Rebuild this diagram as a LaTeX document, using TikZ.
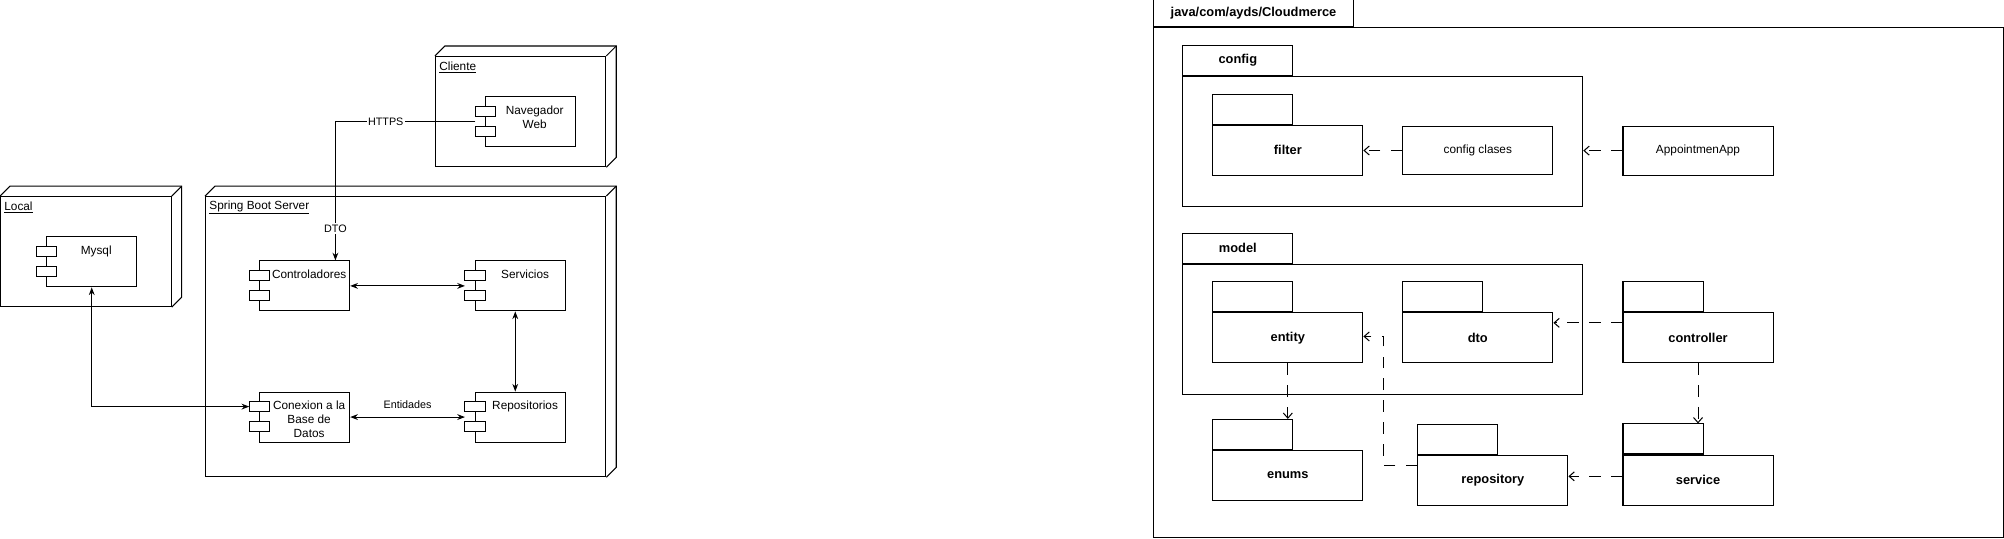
\documentclass[tikz,border=0pt]{standalone}
\usepackage{fontspec}
\setmainfont{Liberation Sans}
\usetikzlibrary{calc, positioning, arrows.meta}

\begin{document}
\begin{tikzpicture}[x = 1pt, y = -1pt, line width = 0.8pt,
		font = \fontsize{9.2}{11}\selectfont,
		>={Stealth[length=6pt, width=4.5pt]},
		device/.style = {draw, inner sep = 0pt, anchor = north west},
		comp/.style = {draw, inner sep = 0pt, minimum width = 70.1pt, minimum height = 38.9pt, anchor = north west},
		port/.style = {draw, fill = white},
		txt/.style = {inner sep = 0pt, anchor = north, align = center},
		tag/.style = {fill = white, inner sep = 1pt, font = \fontsize{8.4}{10}\selectfont},
		pkg/.style = {draw, inner sep = 0pt, minimum width = 116.8pt, minimum height = 39pt, anchor = north west},
		tab/.style = {draw, inner sep = 0pt, minimum width = 62.3pt, minimum height = 23.4pt, anchor = south west},
		dep/.style = {draw, dash pattern = on 9pt off 8pt, -{Straight Barb[length=4pt, width=7pt]}}]

	\useasboundingbox (0,0) rectangle (1560,418.8);

	% deployment nodes
	\node[device, minimum width = 132.9pt, minimum height = 85.7pt] (local) at (0,152.6) {};
	\node[device, minimum width = 311.6pt, minimum height = 218.1pt] (server) at (159.6,152.6) {};
	\node[device, minimum width = 132.6pt, minimum height = 85.9pt] (client) at (338.6,43.5) {};

	\foreach \n in {local, server, client}
	{
		\draw (\n.north west) -- ++(7.7,-7.7) -| ($(\n.south east)+(7.7,-7.7)$) -- (\n.south east);
		\draw (\n.north east) -- ++(7.7,-7.7);
	}

	\node[anchor = west, inner sep = 0pt] (localname) at ($(local.north west)+(3,9)$) {\underline{Local}};
	\node[anchor = west, inner sep = 0pt] (servername) at ($(server.north west)+(3,9)$) {\underline{Spring Boot Server}};
	\node[anchor = west, inner sep = 0pt] (clientname) at ($(client.north west)+(3,9)$) {\underline{Cliente}};

	% components
	\node[comp] (mysql) at (35.95,184) {};
	\node[comp] (nav) at (377.6,74.9) {};
	\node[comp] (ctrl) at (201.7,202.7) {};
	\node[comp] (serv) at (369.6,202.7) {};
	\node[comp] (conn) at (201.7,304.8) {};
	\node[comp] (repo) at (369.6,304.8) {};

	\foreach \n in {mysql, nav, ctrl, serv, conn, repo}
	{
		\draw[port] ($(\n.north west)+(-7.65,7.8)$) rectangle ++(15.7,7.8);
		\draw[port] ($(\n.north west)+(-7.65,23.4)$) rectangle ++(15.7,7.8);
	}

	\node[txt] (mysqltxt) at ($(mysql.north)+(3.5,7)$) {Mysql};
	\node[txt] (navtxt) at ($(nav.north)+(3.2,7)$) {Navegador\\Web};
	\node[txt] (ctrltxt) at ($(ctrl.north)+(3.5,7)$) {Controladores};
	\node[txt] (servtxt) at ($(serv.north)+(3.7,7)$) {Servicios};
	\node[txt] (conntxt) at ($(conn.north)+(3.5,7)$) {Conexion a la\\Base de\\Datos};
	\node[txt] (repotxt) at ($(repo.north)+(3.7,7)$) {Repositorios};

	\coordinate (navport) at ($(nav.west)+(-7.65,0)$);
	\draw[->] (navport) -| node[tag, pos = 0.32] {HTTPS} node[tag, pos = 0.885] {DTO} ($(ctrl.north)+(23.95,0)$);
	\draw[<->] (ctrl.east) -- ($(serv.west)+(-7.65,0)$);
	\draw[<->] ($(serv.south)+(-3.95,0)$) -- ($(repo.north)+(-3.95,0)$);
	\draw[<->] (conn.east) -- node[above = 6.5pt, inner sep = 0pt, font = \fontsize{8.4}{10}\selectfont] {Entidades} ($(repo.west)+(-7.65,0)$);
	\draw[<->] (mysql.south) |- ($(conn.north west)+(-7.65,11.7)$);

	% package side
	\node[draw, inner sep = 0pt, minimum width = 661.7pt, minimum height = 397.2pt, anchor = north west] (frame) at (897.3,20.8) {};
	\node[tab, minimum width = 156.2pt, minimum height = 20.8pt, font = \bfseries] (frametab) at (frame.north west) {java/com/ayds/Cloudmerce};

	\node[draw, inner sep = 0pt, minimum width = 311.3pt, minimum height = 101.2pt, anchor = north west] (cfg) at (920.4,58.9) {};
	\node[tab, minimum width = 85.6pt, font = \bfseries] (cfgtab) at (cfg.north west) {config};
	\node[draw, inner sep = 0pt, minimum width = 311.3pt, minimum height = 101.2pt, anchor = north west] (model) at (920.4,205.2) {};
	\node[tab, minimum width = 85.6pt, font = \bfseries] (modeltab) at (model.north west) {model};

	\node[pkg, font = \bfseries] (filter) at (943.7,97) {filter};
	\node[pkg, minimum height = 37.9pt] (clases) at (1091.6,97.8) {config clases};
	\node[pkg, minimum height = 38.1pt] (app) at (1263,97.8) {AppointmenApp};
	\node[pkg, font = \bfseries] (entity) at (943.7,243.1) {entity};
	\node[pkg, font = \bfseries] (dto) at (1091.6,243.1) {dto};
	\node[pkg, font = \bfseries] (controller) at (1263,243) {controller};
	\node[pkg, font = \bfseries] (enums) at (943.7,350.3) {enums};
	\node[pkg, font = \bfseries] (repository) at (1103.3,354) {repository};
	\node[pkg, font = \bfseries] (service) at (1263,353.8) {service};

	\foreach \n in {filter, entity, dto, controller, enums, repository, service}
	{
		\node[tab] (tab\n) at (\n.north west) {};
	}

	\draw[dep] (clases.west) -- (clases.west -| filter.east);
	\draw[dep] (app.west) -- (app.west -| cfg.east);
	\coordinate (ctrlout) at ($(controller.west)+(0,-11.6)$);
	\draw[dep] (ctrlout) -- (ctrlout -| dto.east);
	\coordinate (repoout) at ($(repository.west)+(0,-11.8)$);
	\draw[dep] (repoout) -| ($(entity.east)+(15.5,-1.1)$) -- ($(entity.east)+(0,-1.1)$);
	\coordinate (servout) at ($(service.west)+(0,-2.9)$);
	\draw[dep] (servout) -- (servout -| repository.east);
	\draw[dep] (entity.south) -- (entity.south |- tabenums.north);
	\draw[dep] (controller.south) -- (controller.south |- tabservice.north);
\end{tikzpicture}
\end{document}
